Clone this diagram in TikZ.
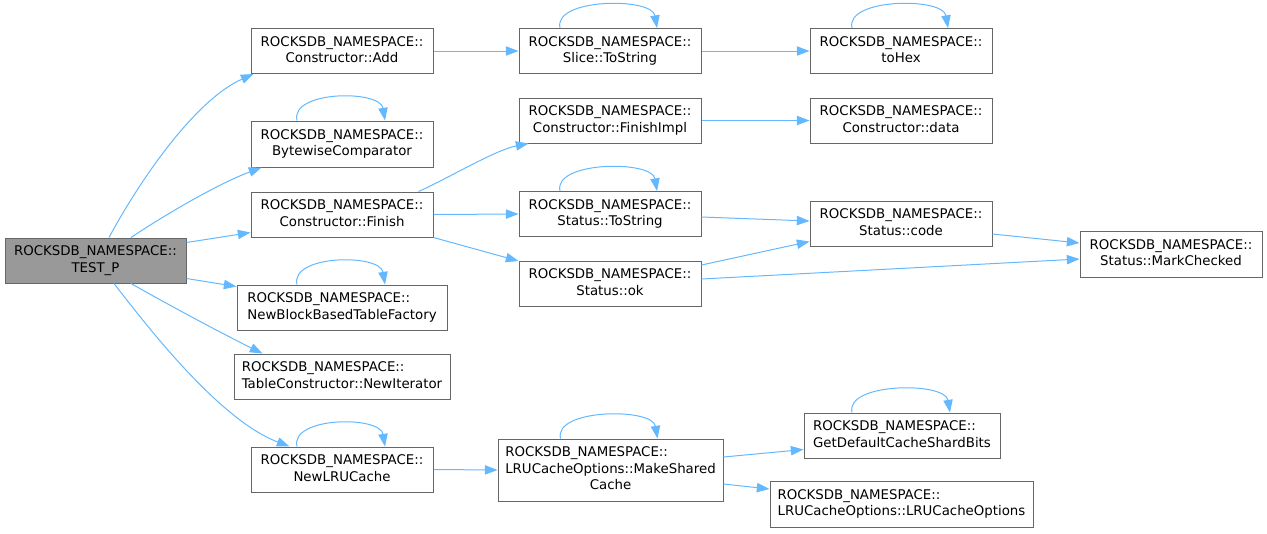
\documentclass[tikz,border=0pt]{standalone}
\usepackage{fontspec}
\setmainfont{DejaVu Sans}
\usetikzlibrary{calc,arrows.meta}
\definecolor{edgecol}{HTML}{63B8FF}
\definecolor{boxline}{HTML}{666666}
\definecolor{boxfill}{HTML}{999999}
\newcommand\two[2]{\begin{tabular}{@{}l@{}}#1\\\multicolumn{1}{@{}c@{}}{#2}\end{tabular}}
\newcommand\three[3]{\begin{tabular}{@{}l@{}}#1\\#2\\\multicolumn{1}{@{}c@{}}{#3}\end{tabular}}
\newcommand\rns{ROCKSDB\_NAMESPACE::}
\renewcommand\arraystretch{1.04}
\tikzset{
  box/.style={draw=boxline, line width=0.75pt, fill=white, inner sep=0pt, font=\fontsize{10}{12}\selectfont},
  current/.style={box, fill=boxfill},
  edge/.style={draw=edgecol, line width=0.75pt, -{Triangle[length=9.5pt,width=7pt]}},
}
\newcommand\selfloop[3]{\draw[edge] ($(#1.north)+(#2,0)$) .. controls ($(#1.north)+(#2-7,-30)$) and ($(#1.north)+(#3-5,-31)$) .. ($(#1.north)+(#3,0)$);}
\begin{document}
\begin{tikzpicture}[x=0.75pt,y=-0.75pt]
\useasboundingbox (0,0) rectangle (1267,533);
% nodes
\node[current, minimum width=181*0.75pt, minimum height=45*0.75pt] (tp) at (95.5,260.5) {\two{\rns}{TEST\_P}};
\node[box, minimum width=182*0.75pt, minimum height=45*0.75pt] (add) at (342,51) {\two{\rns}{Constructor::Add}};
\node[box, minimum width=182*0.75pt, minimum height=46*0.75pt] (byte) at (342,144) {\two{\rns}{BytewiseComparator}};
\node[box, minimum width=182*0.75pt, minimum height=45*0.75pt] (finish) at (342,214.5) {\two{\rns}{Constructor::Finish}};
\node[box, minimum width=210*0.75pt, minimum height=45*0.75pt] (nbbtf) at (342,307.5) {\two{\rns}{NewBlockBasedTableFactory}};
\node[box, minimum width=216*0.75pt, minimum height=45*0.75pt] (newiter) at (342,376.5) {\two{\rns}{TableConstructor::NewIterator}};
\node[box, minimum width=182*0.75pt, minimum height=45*0.75pt] (newlru) at (342,469.5) {\two{\rns}{NewLRUCache}};
\node[box, minimum width=182*0.75pt, minimum height=45*0.75pt] (slice) at (610,51) {\two{\rns}{Slice::ToString}};
\node[box, minimum width=182*0.75pt, minimum height=45*0.75pt] (fimpl) at (610,120.5) {\two{\rns}{Constructor::FinishImpl}};
\node[box, minimum width=182*0.75pt, minimum height=45*0.75pt] (stts) at (610,214) {\two{\rns}{Status::ToString}};
\node[box, minimum width=182*0.75pt, minimum height=45*0.75pt] (ok) at (610,283.5) {\two{\rns}{Status::ok}};
\node[box, minimum width=225*0.75pt, minimum height=62*0.75pt] (make) at (610.5,470) {\three{\rns}{LRUCacheOptions::MakeShared}{Cache}};
\node[box, minimum width=182*0.75pt, minimum height=45*0.75pt] (tohex) at (901,51) {\two{\rns}{toHex}};
\node[box, minimum width=182*0.75pt, minimum height=45*0.75pt] (data) at (901,120.5) {\two{\rns}{Constructor::data}};
\node[box, minimum width=182*0.75pt, minimum height=45*0.75pt] (code) at (901,223.5) {\two{\rns}{Status::code}};
\node[box, minimum width=182*0.75pt, minimum height=46*0.75pt] (mark) at (1171,254) {\two{\rns}{Status::MarkChecked}};
\node[box, minimum width=196*0.75pt, minimum height=45*0.75pt] (getdef) at (902,435.5) {\two{\rns}{GetDefaultCacheShardBits}};
\node[box, minimum width=263*0.75pt, minimum height=46*0.75pt] (lruopt) at (901.5,504) {\two{\rns}{LRUCacheOptions::LRUCacheOptions}};
% edges from TEST_P
\draw[edge] ($(tp.north)+(13.5,0)$) .. controls (140,180) and (195,100) .. ($(add.south west)+(3,0)$);
\draw[edge] ($(tp.north)+(35.5,0)$) .. controls (160,218) and (215,185) .. ($(byte.south west)+(11,0)$);
\draw[edge] ($(tp.north east)+(0,5)$) -- ($(finish.south west)+(0,-5)$);
\draw[edge] ($(tp.south east)+(0,-5)$) -- ($(nbbtf.north west)+(0,2)$);
\draw[edge] ($(tp.south)+(35.5,0)$) .. controls (160,300) and (215,330) .. ($(newiter.north west)+(29,0)$);
\draw[edge] ($(tp.south)+(18.5,0)$) .. controls (150,330) and (220,420) .. ($(newlru.north west)+(39,0)$);
% second level
\draw[edge] (add.east) -- (slice.west);
\draw[edge] (slice.east) -- (tohex.west);
\draw[edge] ($(finish.north east)+(-15,0)$) .. controls (445,180) and (495,150) .. ($(fimpl.south west)+(10,0)$);
\draw[edge] (finish.east) -- (stts.west);
\draw[edge] (finish.south east) -- ($(ok.west)+(0,-22.5)$);
\draw[edge] (fimpl.east) -- (data.west);
\draw[edge] ($(stts.east)+(0,3)$) -- ($(code.west)+(0,-2.5)$);
\draw[edge] ($(ok.east)+(0,-18.5)$) -- ($(code.south west)+(0,-5)$);
\draw[edge] ($(ok.east)+(0,-4.5)$) -- ($(mark.west)+(0,5)$);
\draw[edge] ($(code.east)+(0,10.5)$) -- ($(mark.west)+(0,-11)$);
\draw[edge] (newlru.east) -- (make.west);
\draw[edge] ($(make.east)+(0,-13)$) -- ($(getdef.south west)+(0,-9)$);
\draw[edge] ($(make.east)+(0,14)$) -- ($(lruopt.west)+(0,-15)$);
% self loops
\selfloop{byte}{-45}{43}
\selfloop{nbbtf}{-45}{43}
\selfloop{newlru}{-45}{43}
\selfloop{slice}{-50}{47}
\selfloop{stts}{-50}{47}
\selfloop{make}{-50}{47}
\selfloop{tohex}{-49}{47}
\selfloop{getdef}{-50}{48}
\end{tikzpicture}
\end{document}
